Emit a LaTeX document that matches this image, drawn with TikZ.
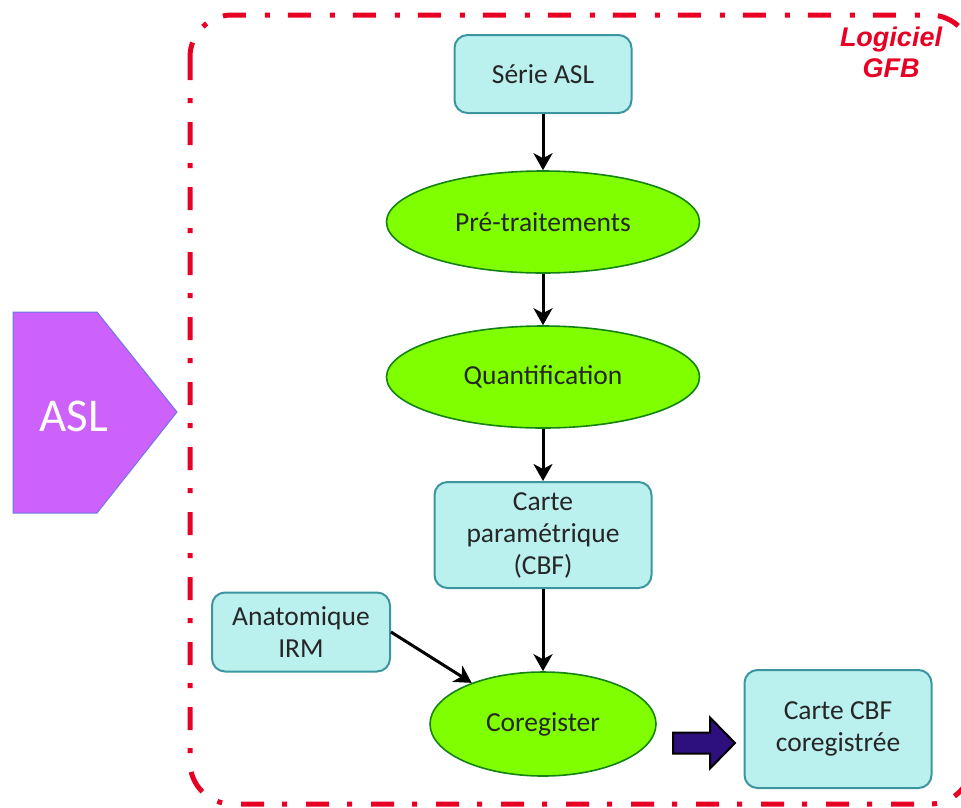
\documentclass[tikz,border=0pt]{standalone}
\usepackage{fontspec}
\setmainfont{Carlito}
\newfontfamily\logfont{Liberation Sans}
\usetikzlibrary{arrows.meta,shapes.geometric}
\definecolor{boxfill}{RGB}{186,240,238}
\definecolor{boxline}{RGB}{60,150,160}
\definecolor{ellfill}{RGB}{128,255,0}
\definecolor{ellline}{RGB}{20,130,20}
\definecolor{aslfill}{RGB}{204,98,250}
\definecolor{aslline}{RGB}{110,120,230}
\definecolor{gfbred}{RGB}{232,0,36}
\definecolor{blockarrow}{RGB}{46,16,125}
\tikzset{
  procbox/.style={draw=boxline, line width=2pt, fill=boxfill, rounded corners=13pt,
    align=center, inner sep=0pt, font=\fontsize{27.5}{32}\selectfont, text=black!85},
  procell/.style={ellipse, draw=ellline, line width=1.6pt, fill=ellfill, inner sep=0pt,
    font=\fontsize{27.5}{32}\selectfont, text=black!85},
  flow/.style={line width=3pt, -{Stealth[length=17pt,width=19pt,inset=5pt]}},
}
\begin{document}
\begin{tikzpicture}[x=1pt,y=-1pt]
\useasboundingbox (0,0) rectangle (961,807);
\begin{scope}
\clip (0,0) rectangle (961,807);
% border
\draw[gfbred, line width=5pt, dash pattern=on 23pt off 18pt on 5pt off 19pt,
  rounded corners=42pt] (190,15) rectangle (972,804);
\end{scope}
% label
\node[font=\logfont\bfseries\itshape\fontsize{27}{31}\selectfont, text=gfbred,
  align=center, inner sep=1pt] (gfb) at (891,52) {Logiciel\\GFB};
% ASL pentagon
\fill[aslfill, draw=aslline, line width=1pt] (13,312) -- (97,312) -- (177,412) -- (97,513) -- (13,513) -- cycle;
\node[text=white, font=\fontsize{47}{50}\selectfont] (asl) at (74,416) {ASL};
% nodes
\node[procbox, minimum width=177pt, minimum height=78pt] (serie) at (543,74) {Série ASL};
\node[procell, minimum width=313pt, minimum height=102pt] (pre) at (543,222) {Pré-traitements};
\node[procell, minimum width=313pt, minimum height=102pt] (quant) at (543,377) {Quantification};
\node[procbox, minimum width=217pt, minimum height=106pt] (carte) at (543,535) {Carte\\paramétrique\\(CBF)};
\node[procbox, minimum width=178pt, minimum height=79pt] (anat) at (301,632) {Anatomique\\IRM};
\node[procell, minimum width=226pt, minimum height=104pt] (coreg) at (543,724) {Coregister};
\node[procbox, minimum width=187pt, minimum height=118pt] (cbf) at (838,729) {Carte CBF\\coregistrée};
% connectors
\draw[flow] (serie) -- (pre);
\draw[flow] (pre) -- (quant);
\draw[flow] (quant) -- (carte);
\draw[flow] (carte.south) -- (coreg.north);
\draw[flow] (anat.east) -- (coreg.150);
% block arrow
\coordinate (ba) at (673,722);
\fill[blockarrow, draw=black, line width=2pt, line join=miter]
  ([yshift=-10.5pt]ba) -- ++(37,0) -- ++(0,-15) -- ++(25,25.5) -- ++(-25,25.5) -- ++(0,-15) -- ++(-37,0) -- cycle;
\end{tikzpicture}
\end{document}
